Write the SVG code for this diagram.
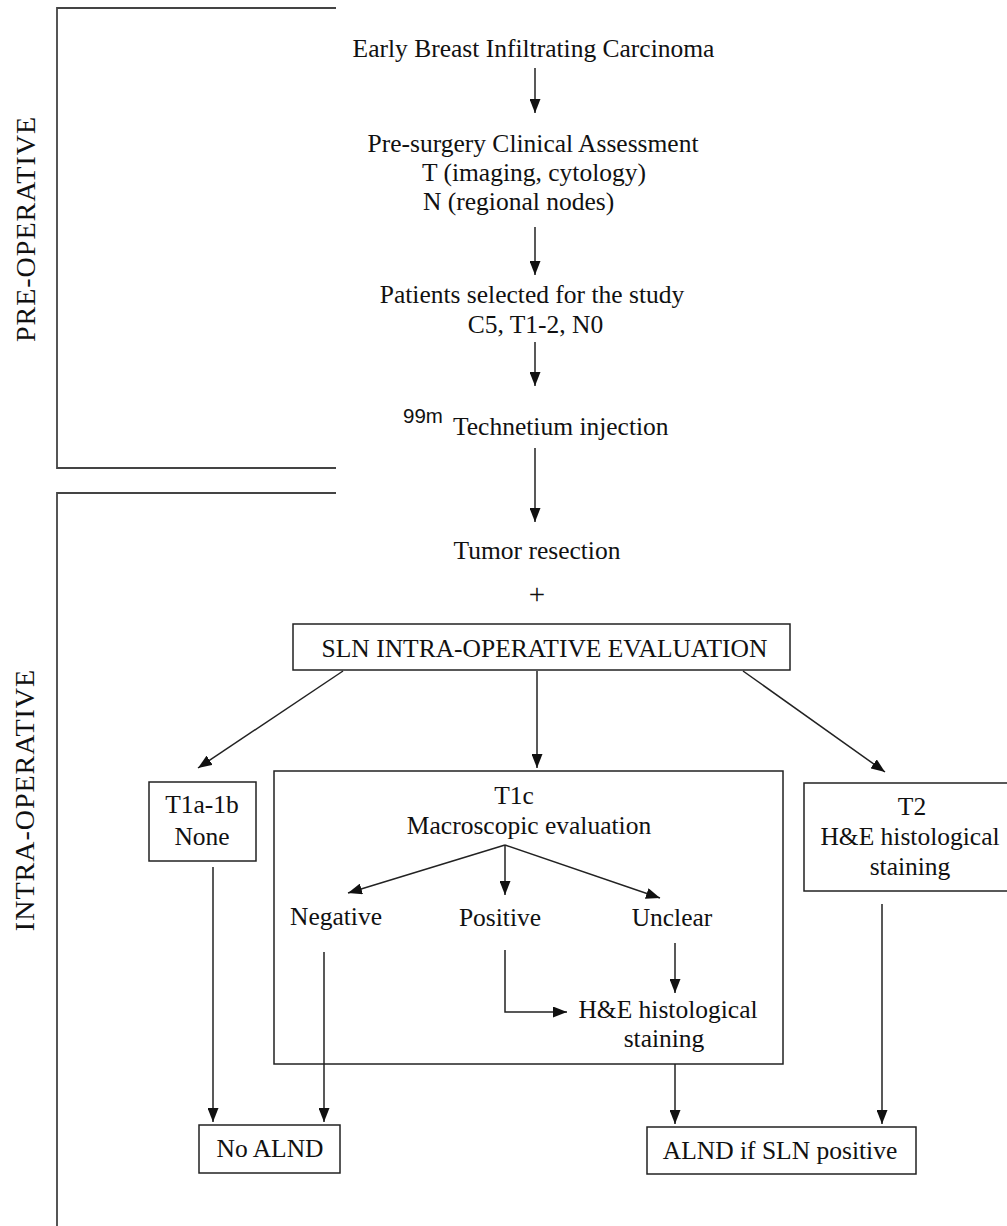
<svg xmlns="http://www.w3.org/2000/svg" width="1007" height="1226" viewBox="0 0 1007 1226">
<defs>
<style>
text{font-family:"Liberation Serif","Times New Roman",serif;font-size:25.5px;fill:#111;}
.m{text-anchor:middle;}
.lab{font-size:28px;letter-spacing:1px;text-anchor:middle;}
.sup{font-family:"Liberation Sans",Arial,sans-serif;font-size:20.5px;}
.plus{font-size:29px;}
.box{fill:none;stroke:#222;stroke-width:1.5;}
.br{fill:none;stroke:#444;stroke-width:1.8;}
.c{fill:none;stroke:#222;stroke-width:1.5;}
</style>
<marker id="ah" markerUnits="userSpaceOnUse" viewBox="0 0 14 11" markerWidth="14" markerHeight="11" refX="14" refY="5.5" orient="auto">
<path d="M0,0 L14,5.5 L0,11 z" fill="#111"/>
</marker>
</defs>
<rect width="1007" height="1226" fill="#fff"/>

<g id="pre-operative">
<polyline class="br" points="336,8 57,8 57,468 336,468"/>
<text class="lab" transform="translate(35,229) rotate(-90)">PRE-OPERATIVE</text>
</g>
<g id="intra-operative">
<polyline class="br" points="336,493 57,493 57,1226"/>
<text class="lab" transform="translate(34,800) rotate(-90)">INTRA-OPERATIVE</text>
</g>

<g id="n-early"><text class="m" x="533.5" y="57">Early Breast Infiltrating Carcinoma</text></g>
<g id="n-presurgery">
<text class="m" x="533" y="152">Pre-surgery Clinical Assessment</text>
<text class="m" x="534" y="181">T (imaging, cytology)</text>
<text x="423" y="210">N (regional nodes)</text>
</g>
<g id="n-patients">
<text class="m" x="532" y="303">Patients selected for the study</text>
<text class="m" x="535.5" y="333">C5, T1-2, N0</text>
</g>
<g id="n-technetium">
<text class="sup" x="403" y="423">99m</text>
<text x="453" y="435">Technetium injection</text>
</g>
<g id="n-tumor">
<text class="m" x="537" y="559">Tumor resection</text>
<text class="m plus" x="537" y="604">+</text>
</g>
<g id="n-sln">
<rect class="box" x="293" y="624" width="497" height="46"/>
<text class="m" x="544.5" y="657">SLN INTRA-OPERATIVE EVALUATION</text>
</g>
<g id="n-t1a">
<rect class="box" x="149" y="782" width="107" height="79"/>
<text class="m" x="202" y="813">T1a-1b</text>
<text class="m" x="202" y="845">None</text>
</g>
<g id="n-t1c">
<rect class="box" x="274" y="771" width="509" height="293"/>
<text class="m" x="514" y="804">T1c</text>
<text class="m" x="529" y="834">Macroscopic evaluation</text>
</g>
<g id="n-negative"><text class="m" x="336" y="925">Negative</text></g>
<g id="n-positive"><text class="m" x="500" y="926">Positive</text></g>
<g id="n-unclear"><text class="m" x="672" y="926">Unclear</text></g>
<g id="n-he-inner">
<text class="m" x="668" y="1018">H&amp;E histological</text>
<text class="m" x="664" y="1047">staining</text>
</g>
<g id="n-t2">
<rect class="box" x="804" y="783" width="210" height="108"/>
<text class="m" x="912" y="815">T2</text>
<text class="m" x="910" y="845">H&amp;E histological</text>
<text class="m" x="910" y="875">staining</text>
</g>
<g id="n-noalnd">
<rect class="box" x="199" y="1125" width="141" height="48"/>
<text class="m" x="270" y="1157">No ALND</text>
</g>
<g id="n-alnd">
<rect class="box" x="647" y="1127" width="269" height="47"/>
<text class="m" x="780" y="1159">ALND if SLN positive</text>
</g>

<g id="connectors">
<line class="c" x1="535" y1="68" x2="535" y2="113" marker-end="url(#ah)"/>
<line class="c" x1="535" y1="227" x2="535" y2="275" marker-end="url(#ah)"/>
<line class="c" x1="535" y1="342" x2="535" y2="386" marker-end="url(#ah)"/>
<line class="c" x1="535" y1="448" x2="535" y2="522" marker-end="url(#ah)"/>
<line class="c" x1="343" y1="671" x2="198" y2="768" marker-end="url(#ah)"/>
<line class="c" x1="537" y1="671" x2="537" y2="768" marker-end="url(#ah)"/>
<line class="c" x1="743" y1="671" x2="885" y2="772" marker-end="url(#ah)"/>
<line class="c" x1="505" y1="845" x2="348" y2="893" marker-end="url(#ah)"/>
<line class="c" x1="505" y1="845" x2="505" y2="895" marker-end="url(#ah)"/>
<line class="c" x1="505" y1="845" x2="660" y2="898" marker-end="url(#ah)"/>
<line class="c" x1="324" y1="952" x2="324" y2="1122" marker-end="url(#ah)"/>
<line class="c" x1="213" y1="867" x2="213" y2="1122" marker-end="url(#ah)"/>
<polyline class="c" points="505,950 505,1012 567,1012" marker-end="url(#ah)"/>
<line class="c" x1="675" y1="943" x2="675" y2="993" marker-end="url(#ah)"/>
<line class="c" x1="675" y1="1064" x2="675" y2="1124" marker-end="url(#ah)"/>
<line class="c" x1="882" y1="904" x2="882" y2="1124" marker-end="url(#ah)"/>
</g>
</svg>
